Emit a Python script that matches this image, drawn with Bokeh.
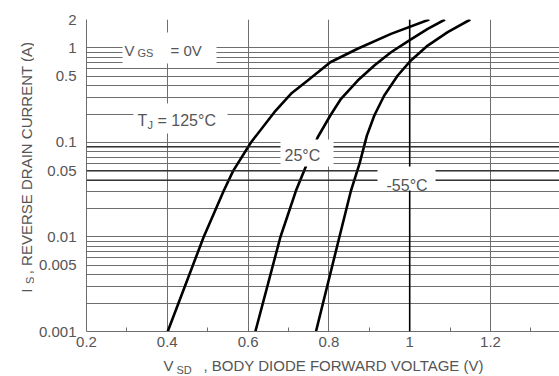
import math
from bokeh.plotting import figure
from bokeh.layouts import row, column
from bokeh.models import (FixedTicker, CustomJSTickFormatter, Label, BoxAnnotation,
                          Span, Range1d)
from bokeh.embed import file_html
from bokeh.resources import INLINE

# ---- data ----
v_125 = [0.401, 0.49, 0.54, 0.563, 0.607, 0.665, 0.706, 0.7475, 0.8035, 0.871, 0.9537, 1.0485]
i_125 = [0.001, 0.01, 0.031, 0.05, 0.10, 0.209, 0.327, 0.452, 0.706, 0.98, 1.41, 2.0]

v_25 = [0.618, 0.68, 0.7186, 0.7384, 0.7723, 0.8035, 0.83, 0.8713, 0.9124, 0.9537, 1.003, 1.0446, 1.0873]
i_25 = [0.001, 0.01, 0.031, 0.05, 0.1136, 0.193, 0.29, 0.452, 0.652, 0.90, 1.23, 1.59, 2.0]

v_m55 = [0.768, 0.826, 0.8547, 0.876, 0.894, 0.9124, 0.937, 0.9703, 1.003, 1.0446, 1.094, 1.15]
i_m55 = [0.001, 0.01, 0.031, 0.06, 0.118, 0.193, 0.314, 0.511, 0.737, 1.06, 1.47, 2.0]

x_ticks = [0.2, 0.4, 0.6, 0.8, 1.0, 1.2, 1.4]
x_minor = [0.3, 0.5, 0.7, 0.9, 1.1, 1.3]
y_ticks = [0.001, 0.005, 0.01, 0.05, 0.1, 0.5, 1, 2]
y_minor = [m * d for d in (0.001, 0.01, 0.1, 1) for m in range(1, 10)] + [2]

GRID = "#6e6e6e"
TXT = "#555555"
FONT = "Liberation Sans"

W, H = 559, 376
YT_W = 34            # strip for the y-axis title
XT_H = 22            # strip for the x-axis title
FL, FT, FB = 86, 19, 331          # frame left / top / bottom in window pixels
PX_PER_V = 404.0
PX_PER_DEC = 94.5

p = figure(width=W - YT_W, height=H - XT_H, title=None,
           x_range=Range1d(0.2, 0.2 + (W - FL) / PX_PER_V),
           y_range=Range1d(0.001, 2), y_axis_type="log",
           output_backend="svg", toolbar_location=None,
           min_border_left=FL - YT_W, min_border_right=0, min_border_top=FT,
           min_border_bottom=H - XT_H - FB)
p.outline_line_color = None

# axes
p.xaxis.ticker = FixedTicker(ticks=x_ticks, minor_ticks=x_minor)
p.yaxis.ticker = FixedTicker(ticks=y_ticks, minor_ticks=y_minor)
p.xaxis.formatter = CustomJSTickFormatter(code="return (Math.round(tick*10)/10).toString();")
p.yaxis.formatter = CustomJSTickFormatter(code="return (+tick.toPrecision(3)).toString();")
for ax in (p.xaxis, p.yaxis):
    ax.axis_line_color = GRID
    ax.major_tick_in = 0
    ax.major_tick_out = 0
    ax.major_label_text_font = FONT
    ax.major_label_text_font_size = "15px"
    ax.major_label_text_color = TXT
p.xaxis.minor_tick_in = 4
p.xaxis.minor_tick_out = 0
p.xaxis.minor_tick_line_color = GRID
p.xaxis.major_label_standoff = 5
p.yaxis.minor_tick_in = 0
p.yaxis.minor_tick_out = 0
p.yaxis.major_label_standoff = 10

p.xgrid.grid_line_color = GRID
p.xgrid.minor_grid_line_color = None
p.ygrid.grid_line_color = GRID
p.ygrid.minor_grid_line_color = GRID

# darker lines as in the scan
p.add_layout(Span(location=1.0, dimension="height", line_color="black", line_width=1.6))
for loc in (0.09, 0.05, 0.04):
    p.add_layout(Span(location=loc, dimension="width", line_color="#222222", line_width=1.3))

# curves
for vs, cs in ((v_125, i_125), (v_25, i_25), (v_m55, i_m55)):
    p.line(vs, cs, line_color="black", line_width=2.6)


# white label boxes (window-pixel rectangles converted to data coordinates)
def vx(px):
    return 0.2 + (px - FL) / PX_PER_V


def iy(py):
    return 2 * 10 ** (-(py - FT) / PX_PER_DEC)


for l, r, t, b in ((122, 216, 32, 63), (133, 227, 103, 133),
                   (280, 333, 139, 166), (377, 435, 166, 190)):
    p.add_layout(BoxAnnotation(left=vx(l), right=vx(r), top=iy(t), bottom=iy(b),
                               fill_color="white", fill_alpha=1.0,
                               line_color=None, line_alpha=0))


def lab(fig, text, x, y, size="15px", angle=0.0, xo=0, yo=0, baseline="alphabetic"):
    fig.add_layout(Label(x=x, y=y, x_offset=xo, y_offset=yo,
                         text=text, text_font=FONT, text_font_size=size,
                         text_color=TXT, text_baseline=baseline,
                         text_align="left", angle=angle))


def plab(text, px, py, size="16px"):
    lab(p, text, 0.2, 0.001, size, xo=px - FL, yo=FB - py)


plab("V", 124, 50, "15px")
plab("GS", 137, 52, "11px")
plab("= 0V", 170, 50, "15px")
plab("T", 137, 120)
plab("J", 147, 124, "11px")
plab("= 125°C", 157, 120)
plab("25°C", 284, 155)
plab("-55°C", 386, 185)


def strip(w, h):
    f = figure(width=w, height=h, title=None, x_range=Range1d(0, w), y_range=Range1d(0, h),
               output_backend="svg", toolbar_location=None, min_border=0,
               x_axis_location=None, y_axis_location=None)
    f.grid.visible = False
    f.outline_line_color = None
    return f


# y-axis title strip (window x == strip x; strip y measured from its bottom)
yt = strip(YT_W, H - XT_H)
half_pi = math.pi / 2
YB = H - XT_H
lab(yt, "I", 26, YB - 310, angle=half_pi)
lab(yt, "S", 29, YB - 300, "11px", angle=half_pi)
lab(yt, ", REVERSE DRAIN CURRENT (A)", 26, YB - 289, angle=half_pi)

# x-axis title strip (strip y measured from the window bottom)
xt = strip(W, XT_H)
lab(xt, "V", 163, H - 365, baseline="middle")
lab(xt, "SD", 176, H - 369, "11px", baseline="middle")
lab(xt, ", BODY DIODE FORWARD VOLTAGE (V)", 203, H - 365, baseline="middle")

layout = column(row(yt, p, spacing=0), xt, spacing=0)
open("out.html", "w").write(file_html(layout, INLINE))
